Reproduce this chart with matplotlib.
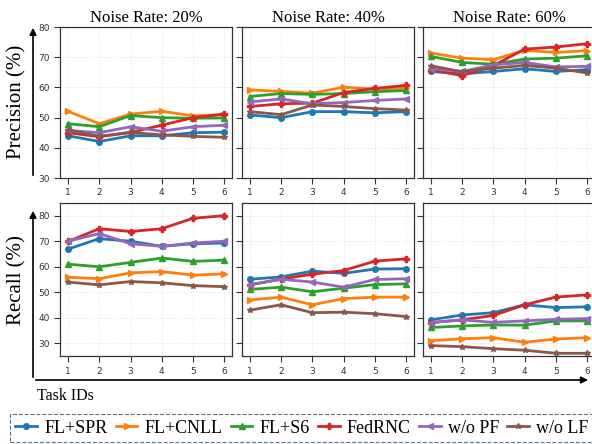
import matplotlib
matplotlib.use("Agg")
import matplotlib.pyplot as plt
from matplotlib.patches import FancyArrowPatch

# task ids on the x axis
tasks = [1, 2, 3, 4, 5, 6]
noise_rates = ["20%", "40%", "60%"]

methods = ["FL+SPR", "FL+CNLL", "FL+S6", "FedRNC", "w/o PF", "w/o LF"]
colors = ["#1f77b4", "#ff7f0e", "#2ca02c", "#d62728", "#9467bd", "#8c564b"]
markers = ["o", ">", "^", "P", "<", "*"]

# precision (%), one list per method, for each noise rate
prec_20 = [
    [44.0, 42.1, 44.0, 44.0, 45.0, 45.2],
    [52.1, 48.0, 51.2, 52.1, 50.6, 51.0],
    [48.0, 47.0, 50.7, 50.0, 49.8, 49.9],
    [45.0, 43.7, 45.1, 47.5, 50.0, 51.2],
    [45.8, 45.0, 47.0, 45.5, 47.0, 47.5],
    [46.0, 43.8, 45.1, 44.3, 43.8, 43.5],
]
prec_40 = [
    [50.9, 50.0, 52.0, 52.0, 51.6, 52.0],
    [59.2, 58.7, 58.1, 60.1, 59.5, 59.8],
    [57.0, 58.0, 57.7, 58.0, 58.6, 59.0],
    [53.7, 54.6, 54.8, 58.3, 59.7, 60.7],
    [55.2, 56.2, 54.6, 55.0, 55.7, 56.2],
    [52.0, 51.0, 54.2, 53.7, 53.0, 52.5],
]
prec_60 = [
    [65.3, 64.5, 65.3, 66.2, 65.3, 65.9],
    [71.4, 69.7, 69.2, 72.3, 71.6, 72.2],
    [70.3, 68.3, 67.7, 69.4, 69.7, 70.5],
    [65.9, 63.9, 67.2, 72.7, 73.4, 74.5],
    [66.2, 65.3, 67.5, 68.3, 66.8, 67.0],
    [67.2, 65.2, 66.4, 67.3, 66.4, 64.8],
]

# recall (%)
rec_20 = [
    [66.9, 71.0, 70.0, 68.0, 69.0, 69.3],
    [55.9, 55.3, 57.6, 58.1, 56.7, 57.2],
    [61.0, 60.0, 61.7, 63.4, 62.1, 62.6],
    [69.9, 74.9, 73.8, 74.9, 79.0, 80.0],
    [70.0, 73.0, 69.0, 68.0, 69.3, 70.0],
    [54.0, 52.9, 54.2, 53.7, 52.6, 52.2],
]
rec_40 = [
    [55.1, 56.0, 58.3, 57.4, 59.1, 59.2],
    [47.0, 48.1, 45.1, 47.5, 48.1, 48.1],
    [51.1, 52.0, 50.2, 51.6, 53.0, 53.3],
    [52.9, 55.1, 57.1, 58.5, 62.2, 63.1],
    [53.0, 55.1, 54.0, 52.0, 55.0, 55.3],
    [43.0, 45.1, 42.0, 42.2, 41.6, 40.5],
]
rec_60 = [
    [39.2, 41.1, 42.0, 45.1, 44.0, 44.3],
    [31.0, 31.8, 32.2, 30.4, 31.7, 32.2],
    [36.2, 36.8, 37.2, 37.1, 38.8, 38.8],
    [38.1, 39.2, 40.9, 45.1, 48.1, 49.0],
    [38.1, 39.2, 38.2, 38.8, 39.4, 39.7],
    [29.1, 28.7, 27.9, 27.3, 26.1, 26.1],
]

precision = [prec_20, prec_40, prec_60]
recall = [rec_20, rec_40, rec_60]

fig = plt.figure(figsize=(5.92, 4.44), dpi=100)

lefts = [0.1017, 0.4088, 0.7145]
width = 0.2905
rows = [(0.599, 0.340, precision, (30, 80)), (0.198, 0.345, recall, (25, 85))]

handles = []
for r, (bottom, height, data, ylim) in enumerate(rows):
    for c in range(3):
        ax = fig.add_axes([lefts[c], bottom, width, height])
        for m in range(len(methods)):
            line, = ax.plot(tasks, data[c][m], color=colors[m], marker=markers[m],
                            markersize=4, linewidth=2)
            if r == 0 and c == 0:
                handles.append(line)
        ax.set_xlim(0.75, 6.25)
        ax.set_ylim(*ylim)
        ax.set_xticks(tasks)
        ax.set_yticks([30, 40, 50, 60, 70, 80])
        ax.grid(True, color="#dddddd", linestyle=":", linewidth=0.6)
        ax.tick_params(direction="out", length=4, width=0.8, labelsize=6.5,
                       colors="#333333", labelcolor="#333333")
        for s in ax.spines.values():
            s.set_color("#333333")
            s.set_linewidth(0.9)
        if c > 0:
            ax.set_yticklabels([])
        if r == 0:
            ax.set_title("Noise Rate: " + noise_rates[c], fontsize=12,
                         family="Liberation Serif", pad=4)

fig.text(0.029, 0.77, "Precision (%)", rotation=90, ha="center", va="center",
         fontsize=15, family="Liberation Serif")
fig.text(0.029, 0.37, "Recall (%)", rotation=90, ha="center", va="center",
         fontsize=15, family="Liberation Serif")
fig.text(0.063, 0.108, "Task IDs", ha="left", va="center",
         fontsize=11.5, family="Liberation Serif")

# arrows along the left and bottom
ax_x = 33 / 592
arrows = [
    ((ax_x, 1 - 178 / 444), (ax_x, 1 - 25 / 444)),
    ((ax_x, 1 - 380 / 444), (ax_x, 1 - 208 / 444)),
    ((ax_x, 1 - 380 / 444), (0.998, 1 - 380 / 444)),
]
for start, end in arrows:
    fig.add_artist(FancyArrowPatch(start, end, transform=fig.transFigure,
                                   arrowstyle="-|>", mutation_scale=10,
                                   color="black", linewidth=1.2))

leg = fig.legend(handles, methods, loc="center left", bbox_to_anchor=(0.017, 0.036),
                 ncol=6, prop={"family": "Liberation Serif", "size": 13},
                 handlelength=1.2, handletextpad=0.4, columnspacing=0.45,
                 frameon=True, fancybox=False, borderpad=0.3, borderaxespad=0)
frame = leg.get_frame()
frame.set_linestyle("--")
frame.set_edgecolor("#3a4a6a")
frame.set_linewidth(0.8)

fig.savefig("out.png", dpi=100)
